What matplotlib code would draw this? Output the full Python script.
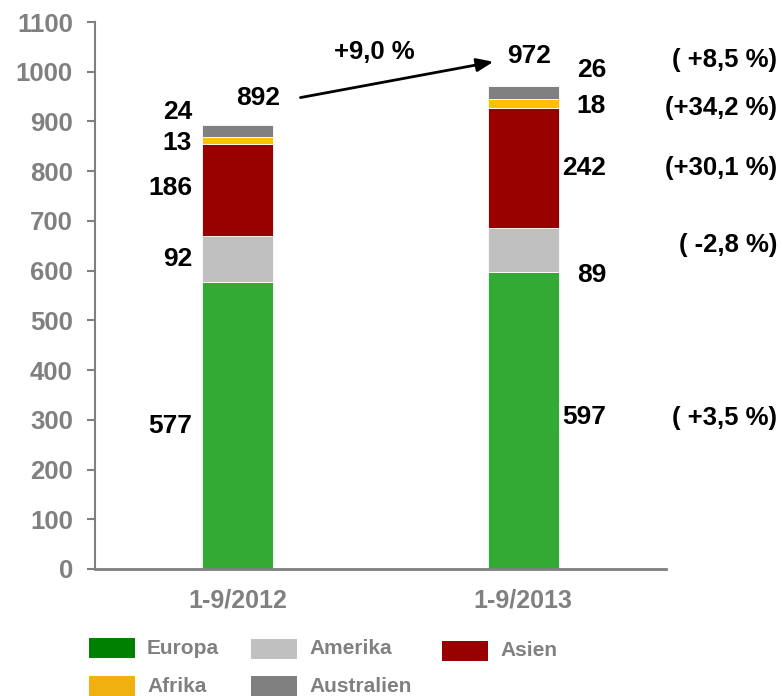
import matplotlib.pyplot as plt
from matplotlib.patches import Rectangle

plt.rcParams['font.family'] = ['Liberation Sans', 'DejaVu Sans']
plt.rcParams['font.weight'] = 'bold'

# data
periods = ['1-9/2012', '1-9/2013']
regions = ['Europa', 'Amerika', 'Asien', 'Afrika', 'Australien']
europa = [577, 597]
amerika = [92, 89]
asien = [186, 242]
afrika = [13, 18]
australien = [24, 26]
totals = [892, 972]
changes = ['( +3,5 %)', '( -2,8 %)', '(+30,1 %)', '(+34,2 %)', '( +8,5 %)']
total_change = '+9,0 %'

bar_colors = ['#33AA33', '#C0C0C0', '#990000', '#FFC000', '#808080']
legend_colors = ['#008000', '#C0C0C0', '#990000', '#F0B010', '#808080']
grey = '#808080'

fig = plt.figure(figsize=(7.82, 6.96), dpi=100)
ax = fig.add_axes([95 / 782, 1 - 569 / 696, 571 / 782, 547 / 696])

series = [europa, amerika, asien, afrika, australien]
x = [0, 1]
bottom = [0, 0]
for vals, col in zip(series, bar_colors):
    ax.bar(x, vals, width=0.25, bottom=bottom, color=col, edgecolor='white', linewidth=0.6)
    bottom = [b + v for b, v in zip(bottom, vals)]

ax.set_xlim(-0.5, 1.5)
ax.set_ylim(0, 1100)
ax.set_yticks(range(0, 1101, 100))
ax.set_xticks(x)
ax.set_xticklabels(periods)
for s in ['top', 'right']:
    ax.spines[s].set_visible(False)
ax.spines['left'].set_color(grey)
ax.spines['left'].set_linewidth(1.5)
ax.spines['bottom'].set_color(grey)
ax.spines['bottom'].set_linewidth(2)
ax.tick_params(axis='y', colors=grey, labelsize=18.5, length=6, width=1.5, pad=10)
ax.tick_params(axis='x', colors=grey, labelsize=18, length=0, pad=14)
for lab in ax.get_xticklabels() + ax.get_yticklabels():
    lab.set_fontweight('bold')

# segment labels, 2012 (left of bar)
lab_fs = 19
y2012 = [288, 623, 766, 857, 919]
for v, yy in zip([s[0] for s in series], y2012):
    ax.text(-0.16, yy, str(v), ha='right', va='center', fontsize=lab_fs, fontweight='bold')
ax.text(0.15, 947, str(totals[0]), ha='right', va='center', fontsize=lab_fs, fontweight='bold')

# segment labels, 2013 (right of bar)
y2013 = [306, 591, 807, 932, 1004]
for i, (v, yy) in enumerate(zip([s[1] for s in series], y2013)):
    box = dict(facecolor='white', edgecolor='none', pad=2) if i == 0 else None
    ax.text(1.29, yy, str(v), ha='right', va='center', fontsize=lab_fs, fontweight='bold', bbox=box)
ax.text(1.02, 1032, str(totals[1]), ha='center', va='center', fontsize=lab_fs, fontweight='bold')

# changes
y_chg = [304, 652, 807, 928, 1024]
for c, yy in zip(changes, y_chg):
    ax.text(1.89, yy, c, ha='right', va='center', fontsize=18.5, fontweight='bold', clip_on=False)

ax.annotate('', xy=(0.905, 1021), xytext=(0.21, 947),
            arrowprops=dict(arrowstyle='-|>,head_length=1.0,head_width=0.4', color='black', lw=2))
ax.text(0.48, 1040, total_change, ha='center', va='center', fontsize=18.5, fontweight='bold')

# legend
W, H = 782, 696
leg_pos = [(89, 648), (251, 649), (442, 651), (89, 686), (251, 686)]
for name, col, (px, py) in zip(regions, legend_colors, leg_pos):
    fig.add_artist(Rectangle((px / W, 1 - (py + 10) / H), 46 / W, 20 / H,
                             transform=fig.transFigure, facecolor=col, edgecolor='none'))
    fig.text((px + 58) / W, 1 - py / H, name, ha='left', va='center',
             fontsize=15, fontweight='bold', color=grey)

fig.savefig('out.png', dpi=100)
